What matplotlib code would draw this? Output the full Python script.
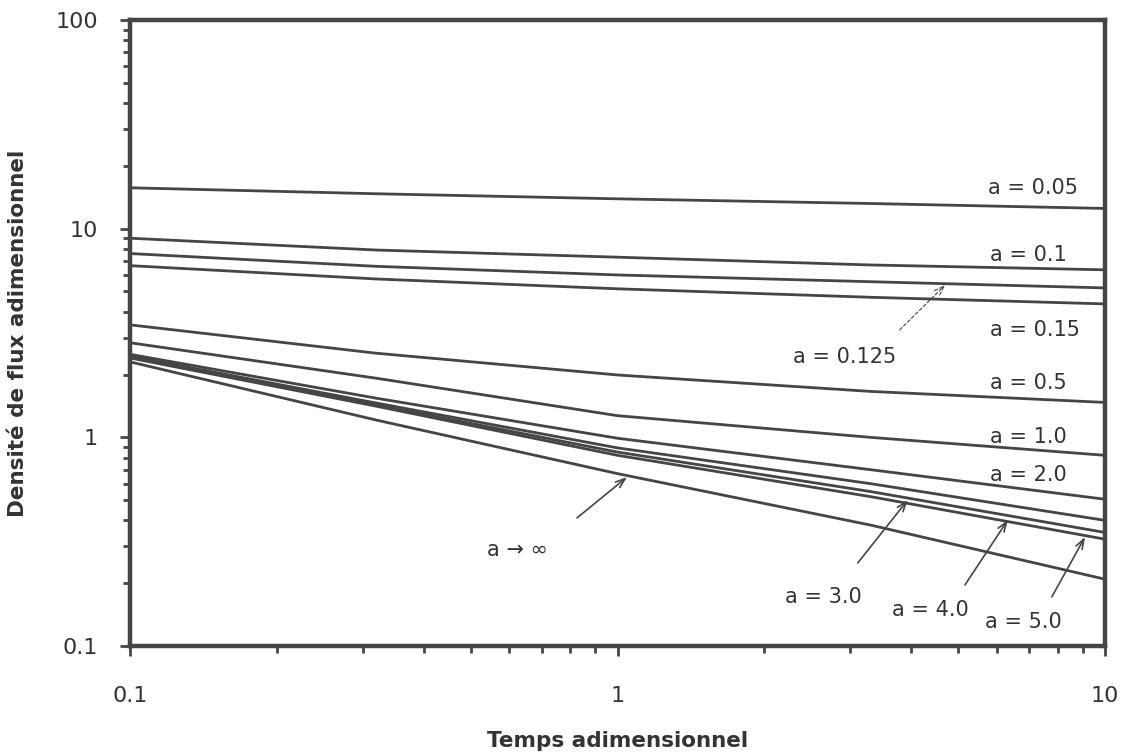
import numpy as np
import matplotlib.pyplot as plt

# temps adimensionnel (points de lecture des courbes)
t = [0.1, 0.32, 1.0, 3.3, 10.0]

# densité de flux adimensionnelle pour chaque valeur de a
q_005 = [15.7, 14.7, 13.9, 13.2, 12.5]
q_01 = [9.0, 7.9, 7.3, 6.7, 6.35]
q_0125 = [7.6, 6.6, 6.0, 5.57, 5.2]
q_015 = [6.65, 5.74, 5.15, 4.69, 4.36]
q_05 = [3.46, 2.53, 1.99, 1.66, 1.47]
q_1 = [2.84, 1.92, 1.27, 1.0, 0.82]
q_2 = [2.5, 1.54, 0.99, 0.70, 0.505]
q_3 = [2.45, 1.46, 0.89, 0.60, 0.40]
q_4 = [2.42, 1.43, 0.85, 0.55, 0.35]
q_5 = [2.40, 1.41, 0.82, 0.52, 0.325]
q_inf = [2.3, 1.21, 0.67, 0.38, 0.209]

courbes = [q_005, q_01, q_0125, q_015, q_05, q_1, q_2, q_3, q_4, q_5, q_inf]

gris = '#454545'
plt.rcParams['font.family'] = ['DejaVu Sans']

fig = plt.figure(figsize=(11.26, 7.56), dpi=100)
ax = fig.add_axes([130/1126, 1 - 646/756, 975/1126, 626/756])

for q in courbes:
    ax.plot(t, q, color=gris, lw=2.0, solid_joinstyle='round')

ax.set_xscale('log')
ax.set_yscale('log')
ax.set_xlim(0.1, 10)
ax.set_ylim(0.1, 100)

ax.set_xticks([0.1, 1, 10])
ax.set_xticklabels(['0.1', '1', '10'])
ax.set_yticks([0.1, 1, 10, 100])
ax.set_yticklabels(['0.1', '1', '10', '100'])

for s in ax.spines.values():
    s.set_linewidth(3.2)
    s.set_color(gris)

ax.tick_params(which='major', direction='out', length=7, width=2, color=gris,
               labelsize=16, labelcolor='#333333')
ax.tick_params(which='minor', direction='out', length=5, width=2, color=gris)
ax.tick_params(axis='x', which='major', pad=22)
ax.tick_params(axis='y', which='major', pad=16)

ax.set_xlabel('Temps adimensionnel', fontsize=15.5, fontweight='bold',
              color='#333333', labelpad=18)
ax.set_ylabel('Densité de flux adimensionnel', fontsize=15.5, fontweight='bold',
              color='#333333', labelpad=20)

# étiquettes des courbes
etiquettes = [
    ('a = 0.05', 5.75, 15.7),
    ('a = 0.1', 5.81, 7.48),
    ('a = 0.15', 5.81, 3.27),
    ('a = 0.125', 2.29, 2.43),
    ('a = 0.5', 5.81, 1.82),
    ('a = 1.0', 5.81, 1.0),
    ('a = 2.0', 5.81, 0.66),
    ('a → ∞', 0.54, 0.288),
    ('a = 3.0', 2.21, 0.172),
    ('a = 4.0', 3.66, 0.149),
    ('a = 5.0', 5.68, 0.130),
]
for txt, x, y in etiquettes:
    ax.text(x, y, txt, fontsize=15, color='#333333', ha='left', va='center')

# flèches vers les courbes
fleches = [
    ((3.79, 3.27), (4.70, 5.37), (0, (3, 2)), 0.8),
    ((0.826, 0.411), (1.046, 0.645), '-', 1.2),
    ((3.11, 0.250), (3.94, 0.501), '-', 1.2),
    ((5.16, 0.196), (6.32, 0.402), '-', 1.2),
    ((7.78, 0.172), (9.10, 0.333), '-', 1.2),
]
for queue, tete, ls, lw in fleches:
    ax.annotate('', xy=tete, xytext=queue,
                arrowprops=dict(arrowstyle='->,head_length=0.7,head_width=0.25',
                                color=gris, lw=lw, linestyle=ls,
                                shrinkA=0, shrinkB=0))

fig.savefig('out.png', dpi=100)
